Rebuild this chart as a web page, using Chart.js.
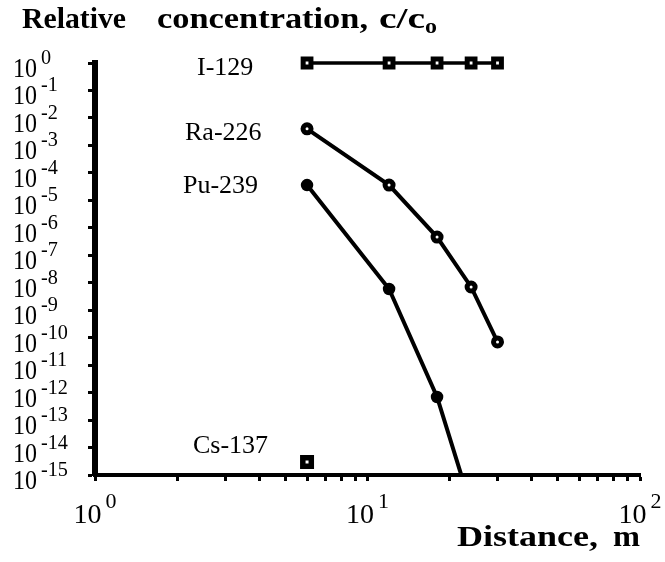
<!DOCTYPE html>
<html><head><meta charset="utf-8">
<script src="https://cdn.jsdelivr.net/npm/chart.js@4/dist/chart.umd.min.js"></script>
<style>html,body{margin:0;padding:0;background:#fff}#wrap{width:665px;height:562px}</style>
</head><body><div id="wrap"><canvas id="c" width="665" height="562"></canvas></div>
<script>
// ---- data ----
const distances = [6, 12, 18, 24, 30];
const i129 = [1, 1, 1, 1, 1];
const ra226 = [4.0e-3, 3.6e-5, 4.6e-7, 7e-9, 7e-11];
const puDistances = [6, 12, 18, 24];
const pu239 = [3.6e-5, 5.9e-9, 6.9e-13, 7e-17];
const csDistances = [6];
const cs137 = [3e-15];
const seriesNames = ['I-129', 'Ra-226', 'Pu-239', 'Cs-137'];
const xTickExponents = [0, 1, 2];
const yTickExponents = [0, -1, -2, -3, -4, -5, -6, -7, -8, -9, -10, -11, -12, -13, -14, -15];
const yTitle = 'Relative  concentration, c/c';
const yTitleSub = 'o';
const xTitle = 'Distance,  m';

const pts = (xs, ys) => xs.map((x, i) => ({x: x, y: ys[i]}));
const FONT = '"Liberation Serif", "Times New Roman", serif';

function drawFit(ctx, t, x, y, target) {
  const w = ctx.measureText(t).width;
  ctx.save();
  ctx.translate(x, y);
  ctx.scale(target / w, 1);
  ctx.fillText(t, 0, 0);
  ctx.restore();
}

const textPlugin = {
  id: 'texts',
  afterDraw(chart) {
    const ctx = chart.ctx;
    const xs = chart.scales.x, ys = chart.scales.y;
    ctx.save();
    ctx.fillStyle = '#000';
    ctx.textBaseline = 'alphabetic';
    ctx.textAlign = 'left';
    // y tick labels
    yTickExponents.forEach(e => {
      const py = ys.getPixelForValue(Math.pow(10, e));
      ctx.font = '27px ' + FONT;
      drawFit(ctx, '10', 13, py + 14, 24);
      ctx.font = '22px ' + FONT;
      const s = String(e);
      drawFit(ctx, s, 41, py + 1, ctx.measureText(s).width * 0.92);
    });
    // x tick labels
    xTickExponents.forEach(e => {
      const px = xs.getPixelForValue(Math.pow(10, e));
      ctx.font = '28px ' + FONT;
      const w1 = ctx.measureText('10').width;
      ctx.font = '22px ' + FONT;
      const w2 = ctx.measureText(String(e)).width;
      const start = px - (w1 + 4 + w2) / 2;
      ctx.font = '28px ' + FONT;
      ctx.fillText('10', start, 523);
      ctx.font = '22px ' + FONT;
      ctx.fillText(String(e), start + w1 + 4, 508);
    });
    // series labels
    ctx.font = '26px ' + FONT;
    ctx.fillText(seriesNames[0], 197, 75);
    ctx.fillText(seriesNames[1], 185, 140);
    ctx.fillText(seriesNames[2], 183, 193);
    ctx.fillText(seriesNames[3], 193, 453);
    // titles
    ctx.font = 'bold 30px ' + FONT;
    const parts = yTitle.split(/\s+/);
    drawFit(ctx, parts[0], 22, 28, 104);
    drawFit(ctx, parts[1], 157, 28, 211);
    drawFit(ctx, parts[2], 379, 28, 46);
    ctx.font = 'bold 22px ' + FONT;
    drawFit(ctx, yTitleSub, 425, 33, 12);
    ctx.font = 'bold 30px ' + FONT;
    const xp = xTitle.split(/\s+/);
    drawFit(ctx, xp[0], 457, 546, 141);
    drawFit(ctx, xp[1], 613, 546, 27);
    ctx.restore();
  }
};

new Chart(document.getElementById('c'), {
  type: 'line',
  data: {
    datasets: [
      {label: seriesNames[0], data: pts(distances, i129), borderColor: '#000', borderWidth: 3.5,
       pointStyle: 'rect', pointRadius: 5.5, pointBorderWidth: 5, pointBackgroundColor: '#fff',
       pointBorderColor: '#000', clip: false},
      {label: seriesNames[1], data: pts(distances, ra226), borderColor: '#000', borderWidth: 4,
       pointStyle: 'circle', pointRadius: 4, pointBorderWidth: 5, pointBackgroundColor: '#fff',
       pointBorderColor: '#000', clip: false},
      {label: seriesNames[2], data: pts(puDistances, pu239), borderColor: '#000', borderWidth: 4,
       pointStyle: 'circle', pointRadius: 5, pointBorderWidth: 2.5, pointBackgroundColor: '#000',
       pointBorderColor: '#000'},
      {label: seriesNames[3], data: pts(csDistances, cs137), borderColor: '#000', borderWidth: 3,
       pointStyle: 'rect', pointRadius: 6, pointBorderWidth: 5.5, pointBackgroundColor: '#fff',
       pointBorderColor: '#000', clip: false}
    ]
  },
  options: {
    responsive: false,
    animation: false,
    devicePixelRatio: 1,
    layout: {padding: {top: 63, right: 25, left: 0, bottom: 0}},
    plugins: {legend: {display: false}, tooltip: {enabled: false}},
    elements: {line: {tension: 0}},
    scales: {
      x: {
        type: 'logarithmic', position: 'bottom', min: 1, max: 100,
        afterBuildTicks: s => {
          const t = [];
          [1, 10].forEach(d => { for (let k = 1; k <= 9; k++) t.push({value: k * d}); });
          t.push({value: 100});
          s.ticks = t;
        },
        afterFit: s => { s.height = 87; },
        ticks: {display: false},
        grid: {drawOnChartArea: false, drawTicks: true, tickLength: 6, tickWidth: 3, tickColor: '#000'},
        border: {display: true, color: '#000', width: 4}
      },
      y: {
        type: 'logarithmic', position: 'left', min: 1e-15, max: 1,
        afterBuildTicks: s => { s.ticks = yTickExponents.map(e => ({value: Math.pow(10, e)})); },
        afterFit: s => { s.width = 95; },
        ticks: {display: false},
        grid: {drawOnChartArea: false, drawTicks: true, tickLength: 7, tickWidth: 3, tickColor: '#000'},
        border: {display: true, color: '#000', width: 6}
      }
    }
  },
  plugins: [textPlugin]
});
</script>
</body></html>
